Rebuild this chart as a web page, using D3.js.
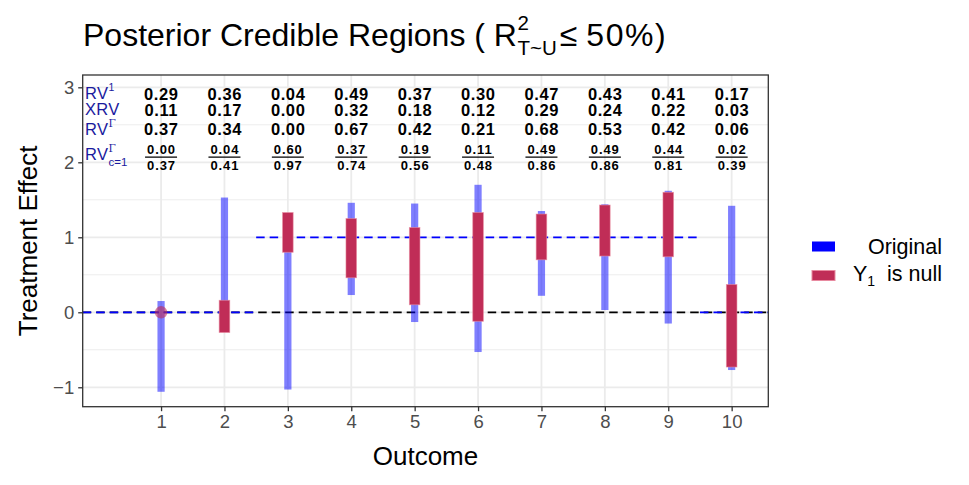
<!DOCTYPE html>
<html><head><meta charset="utf-8">
<script src="https://cdn.jsdelivr.net/npm/d3@7"></script>
<style>body{margin:0;background:#fff}svg{display:block;font-family:"Liberation Sans",Arial,sans-serif}</style>
</head><body><svg id="c" width="969" height="485"></svg>
<script>
// ---- data ----
const outcomes = [1,2,3,4,5,6,7,8,9,10];
const origLower = [-1.06,-0.20,-1.03,0.23,-0.13,-0.53,0.22,0.03,-0.15,-0.77];
const origUpper = [0.15,1.53,1.30,1.46,1.45,1.70,1.35,1.44,1.62,1.42];
const nullLower = [0.00,-0.27,0.80,0.46,0.10,-0.12,0.70,0.75,0.74,-0.73];
const nullUpper = [0.00,0.16,1.33,1.25,1.13,1.33,1.31,1.43,1.60,0.37];
const rv1      = ["0.29","0.36","0.04","0.49","0.37","0.30","0.47","0.43","0.41","0.17"];
const xrv      = ["0.11","0.17","0.00","0.32","0.18","0.12","0.29","0.24","0.22","0.03"];
const rvGamma  = ["0.37","0.34","0.00","0.67","0.42","0.21","0.68","0.53","0.42","0.06"];
const rvC1Num  = ["0.00","0.04","0.60","0.37","0.19","0.11","0.49","0.49","0.44","0.02"];
const rvC1Den  = ["0.37","0.41","0.97","0.74","0.56","0.48","0.86","0.86","0.81","0.39"];
const refBreaks = [2.5, 9.5];          // x where the null reference switches
const refValues = [0, 1, 0];           // reference level in each segment
const yTicks = [-1,0,1,2,3];
const yMinor = [-0.5,0.5,1.5,2.5];
const legendLabels = ["Original","Y1 is null"];

// ---- layout ----
const svg = d3.select("#c");
const P = {l:82.7, r:768.3, t:75, b:406.7};
const x = d3.scaleLinear().domain([-0.236,10.578]).range([P.l,P.r]);
const y = d3.scaleLinear().domain([-1.259,3.164]).range([P.b,P.t]);
const BLUE = "#0000ff", RED = "#c02d57";

svg.append("rect").attr("width",969).attr("height",485).attr("fill","#fff");

// grid
const g = svg.append("g");
g.selectAll(".ymin").data(yMinor).join("line")
  .attr("x1",P.l).attr("x2",P.r).attr("y1",d=>y(d)).attr("y2",d=>y(d))
  .attr("stroke","#ebebeb").attr("stroke-width",0.9);
g.selectAll(".ymaj").data(yTicks).join("line")
  .attr("x1",P.l).attr("x2",P.r).attr("y1",d=>y(d)).attr("y2",d=>y(d))
  .attr("stroke","#ebebeb").attr("stroke-width",1.8);
g.selectAll(".xmaj").data(outcomes).join("line")
  .attr("y1",P.t).attr("y2",P.b).attr("x1",d=>x(d)).attr("x2",d=>x(d))
  .attr("stroke","#ebebeb").attr("stroke-width",1.8);

// black zero line
svg.append("line").attr("x1",P.l).attr("x2",P.r).attr("y1",y(0)).attr("y2",y(0))
  .attr("stroke","#000").attr("stroke-width",1.7).attr("stroke-dasharray","8.5,5");

// blue reference segments
const xd = x.domain();
const segs = refValues.map((v,i)=>({x0: i===0?xd[0]:refBreaks[i-1], x1: i===refValues.length-1?xd[1]:refBreaks[i], v}));
svg.selectAll(".ref").data(segs).join("line")
  .attr("x1",d=>x(d.x0)).attr("x2",d=>x(d.x1)).attr("y1",d=>y(d.v)).attr("y2",d=>y(d.v))
  .attr("stroke",BLUE).attr("stroke-width",1.7).attr("stroke-dasharray","8.5,5");

// original intervals
const data = outcomes.map((o,i)=>({o, lo:origLower[i], hi:origUpper[i], nlo:nullLower[i], nhi:nullUpper[i]}));
svg.selectAll(".orig").data(data).join("rect")
  .attr("x",d=>x(d.o)-3.6).attr("width",7.2)
  .attr("y",d=>y(d.hi)).attr("height",d=>y(d.lo)-y(d.hi))
  .attr("fill",BLUE).attr("fill-opacity",0.5);

// null intervals
const nullBars = data.filter(d=>d.nhi>d.nlo);
svg.selectAll(".nul").data(nullBars).join("rect")
  .attr("x",d=>x(d.o)-5.3).attr("width",10.6)
  .attr("y",d=>y(d.nhi)).attr("height",d=>y(d.nlo)-y(d.nhi))
  .attr("fill",RED).attr("stroke","#e88aa0").attr("stroke-width",0.8).attr("stroke-opacity",0.7);
svg.selectAll(".nulpt").data(data.filter(d=>d.nhi===d.nlo)).join("circle")
  .attr("cx",d=>x(d.o)).attr("cy",d=>y(d.nlo)).attr("r",6.2)
  .attr("fill",RED).attr("fill-opacity",0.6);

// panel border
svg.append("rect").attr("x",P.l).attr("y",P.t).attr("width",P.r-P.l).attr("height",P.b-P.t)
  .attr("fill","none").attr("stroke","#333").attr("stroke-width",1.3);

// axes
const ax = svg.append("g").attr("transform",`translate(0,${P.b})`)
  .call(d3.axisBottom(x).tickValues(outcomes).tickSize(4.5).tickPadding(4));
const ay = svg.append("g").attr("transform",`translate(${P.l},0)`)
  .call(d3.axisLeft(y).tickValues(yTicks).tickSize(4.5).tickPadding(4).tickFormat(d=>d<0?"\u2212"+Math.abs(d):d));
[ax,ay].forEach(a=>{
  a.select(".domain").remove();
  a.selectAll(".tick line").attr("stroke","#333").attr("stroke-width",1.3);
  a.selectAll(".tick text").attr("fill","#4d4d4d").attr("font-size",18.5).attr("font-family","Liberation Sans, Arial, sans-serif");
});
ax.selectAll(".tick text").attr("dy","0.71em");
ay.selectAll(".tick text").attr("dy","0.36em");

// axis titles
svg.append("text").attr("x",(P.l+P.r)/2).attr("y",465).attr("text-anchor","middle")
  .attr("font-size",26).text("Outcome");
svg.append("text").attr("transform",`translate(37,${(P.t+P.b)/2}) rotate(-90)`).attr("text-anchor","middle")
  .attr("font-size",26).text("Treatment Effect");

// title
const TX = 83, TY = 45.5, TF = 32;
const title = svg.append("text").attr("x",TX).attr("y",TY).attr("font-size",TF).attr("xml:space","preserve");
title.text("Posterior Credible Regions ( R");
const tw = title.node().getComputedTextLength();
const sx = TX + tw + 0.5;
const sup = svg.append("text").attr("x",sx).attr("y",30).attr("font-size",20.5).text("2");
const sub = svg.append("text").attr("x",sx).attr("y",55).attr("font-size",20.5).text("T~U");
const sw = Math.max(sup.node().getComputedTextLength(), sub.node().getComputedTextLength());
const le = svg.append("text").attr("x",sx+sw+3).attr("y",TY).attr("font-size",TF).text("\u2264");
const lw = le.node().getComputedTextLength();
svg.append("text").attr("x",sx+sw+3+lw+9).attr("y",TY).attr("font-size",TF)
  .attr("letter-spacing",1.5).text("50%)");

// annotation rows (slightly widened tracking to match the reference lettering)
const LAB = "#1a1a9e";
const VLS = 0.6, FLS = 0.9;
const rows = [{vals:rv1, yv:2.915},{vals:xrv, yv:2.70},{vals:rvGamma, yv:2.44}];
rows.forEach(r=>{
  svg.append("g").selectAll("text").data(outcomes).join("text")
    .attr("x",d=>x(d)+VLS/2).attr("y",y(r.yv)).attr("dy","0.36em").attr("text-anchor","middle")
    .attr("font-size",16.5).attr("letter-spacing",VLS).attr("font-weight","bold").text((d,i)=>r.vals[i]);
});
const fracY = 2.07;
svg.append("g").selectAll("text").data(outcomes).join("text")
  .attr("x",d=>x(d)+FLS/2).attr("y",y(fracY)-3.3).attr("text-anchor","middle")
  .attr("font-size",13).attr("letter-spacing",FLS).attr("font-weight","bold").text((d,i)=>rvC1Num[i]);
svg.append("g").selectAll("text").data(outcomes).join("text")
  .attr("x",d=>x(d)+FLS/2).attr("y",y(fracY)+12.8).attr("text-anchor","middle")
  .attr("font-size",13).attr("letter-spacing",FLS).attr("font-weight","bold").text((d,i)=>rvC1Den[i]);
svg.append("g").selectAll("line").data(outcomes).join("line")
  .attr("x1",d=>x(d)-16).attr("x2",d=>x(d)+16).attr("y1",y(fracY)).attr("y2",y(fracY))
  .attr("stroke","#000").attr("stroke-width",1.3);

// row labels
const lx = 85;
function lab(yb, main, supTxt, subTxt, supSerif){
  const t = svg.append("text").attr("x",lx).attr("y",yb).attr("font-size",16.5).attr("letter-spacing",0.3).attr("fill",LAB).text(main);
  const w = t.node().getComputedTextLength();
  if(supTxt) svg.append("text").attr("x",lx+w+0.3).attr("y",yb-8).attr("font-size",10.5).attr("fill",LAB)
      .attr("font-family",supSerif?"DejaVu Serif, serif":null).text(supTxt);
  if(subTxt) svg.append("text").attr("x",lx+w+0.3).attr("y",yb+6.5).attr("font-size",11.5).attr("fill",LAB).text(subTxt);
}
lab(98.5,"RV","1",null,false);
lab(115,"XRV",null,null,false);
lab(134.5,"RV","\u0393",null,true);
lab(159.5,"RV","\u0393","c=1",true);

// legend
const lg = svg.append("g");
lg.append("rect").attr("x",812).attr("y",241.5).attr("width",23).attr("height",10).attr("fill",BLUE);
lg.append("rect").attr("x",812).attr("y",270.5).attr("width",23).attr("height",10).attr("fill",RED)
  .attr("stroke","#e88aa0").attr("stroke-width",1);
lg.append("text").attr("x",942).attr("y",254).attr("text-anchor","end").attr("font-size",21.5).text(legendLabels[0]);
const l2 = lg.append("text").attr("x",942).attr("y",281).attr("text-anchor","end").attr("font-size",21.5).attr("xml:space","preserve");
l2.append("tspan").text("Y");
l2.append("tspan").attr("font-size",14).attr("dy",5).text("1");
l2.append("tspan").attr("dy",-5).text("  is null");
</script></body></html>
